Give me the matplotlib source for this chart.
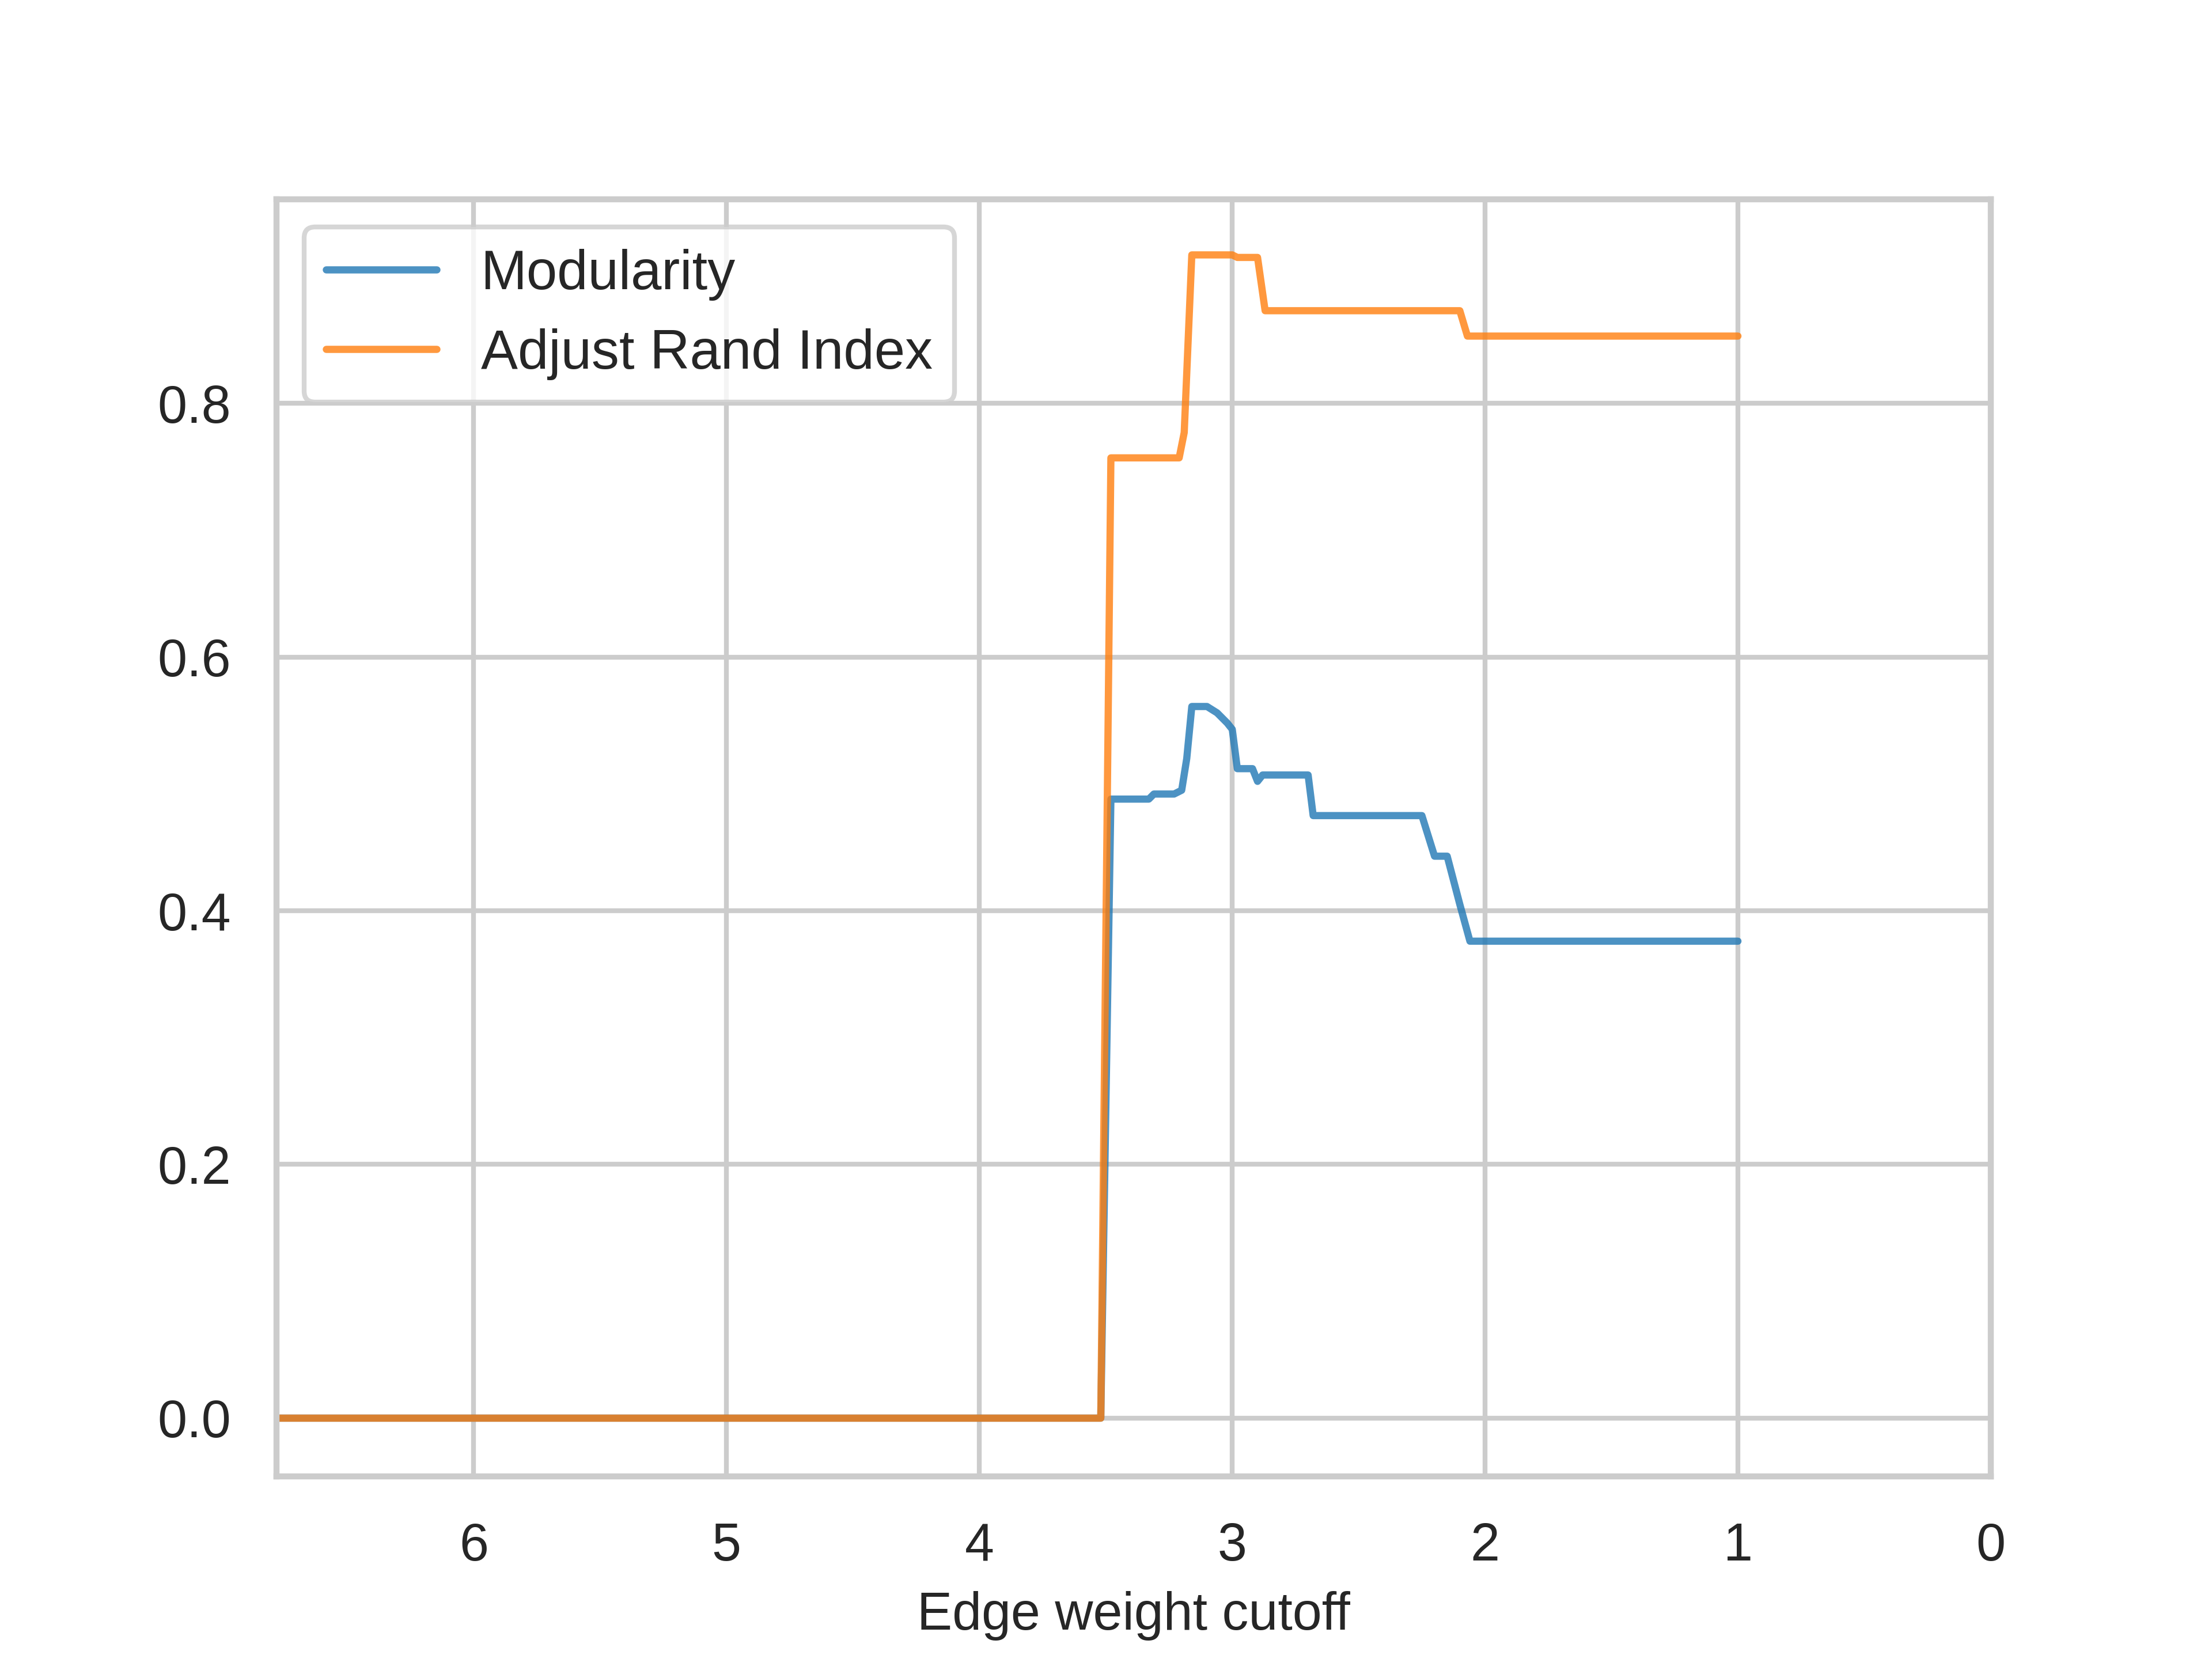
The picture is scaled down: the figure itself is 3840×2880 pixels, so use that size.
import matplotlib
matplotlib.use("Agg")
import matplotlib.pyplot as plt
import seaborn as sns

mod_x = [6.78, 3.52, 3.48, 3.33, 3.31, 3.23, 3.20, 3.18, 3.16, 3.10, 3.06, 3.02, 3.00, 2.98, 2.92, 2.90, 2.88, 2.70, 2.68, 2.25, 2.20, 2.15, 2.10, 2.06, 1.0]
mod_y = [0, 0, 0.488, 0.488, 0.492, 0.492, 0.495, 0.52, 0.561, 0.561, 0.556, 0.548, 0.543, 0.512, 0.512, 0.502, 0.507, 0.507, 0.475, 0.475, 0.443, 0.443, 0.405, 0.376, 0.376]
ari_x = [6.78, 3.52, 3.48, 3.21, 3.19, 3.16, 3.00, 2.98, 2.90, 2.87, 2.10, 2.07, 1.0]
ari_y = [0, 0, 0.757, 0.757, 0.777, 0.917, 0.917, 0.915, 0.915, 0.873, 0.873, 0.853, 0.853]

sns.set_theme(style="whitegrid")
plt.rcParams['font.family'] = ['Liberation Sans', 'DejaVu Sans']
fig, ax = plt.subplots(figsize=(6.4, 4.8), dpi=600)
ax.plot(mod_x, mod_y, color="#1f77b4", alpha=0.8, lw=1.5, label="Modularity")
ax.plot(ari_x, ari_y, color="#ff7f0e", alpha=0.8, lw=1.5, label="Adjust Rand Index")
ax.set_xlim(6.78, 0)
ax.set_ylim(-0.046, 0.961)
ax.set_xticks([6, 5, 4, 3, 2, 1, 0])
ax.set_yticks([0.0, 0.2, 0.4, 0.6, 0.8])
ax.tick_params(labelsize=11)
ax.set_xlabel("Edge weight cutoff", fontsize=11)
ax.legend(loc="upper left", fontsize=11.5)
fig.savefig("out.png")
